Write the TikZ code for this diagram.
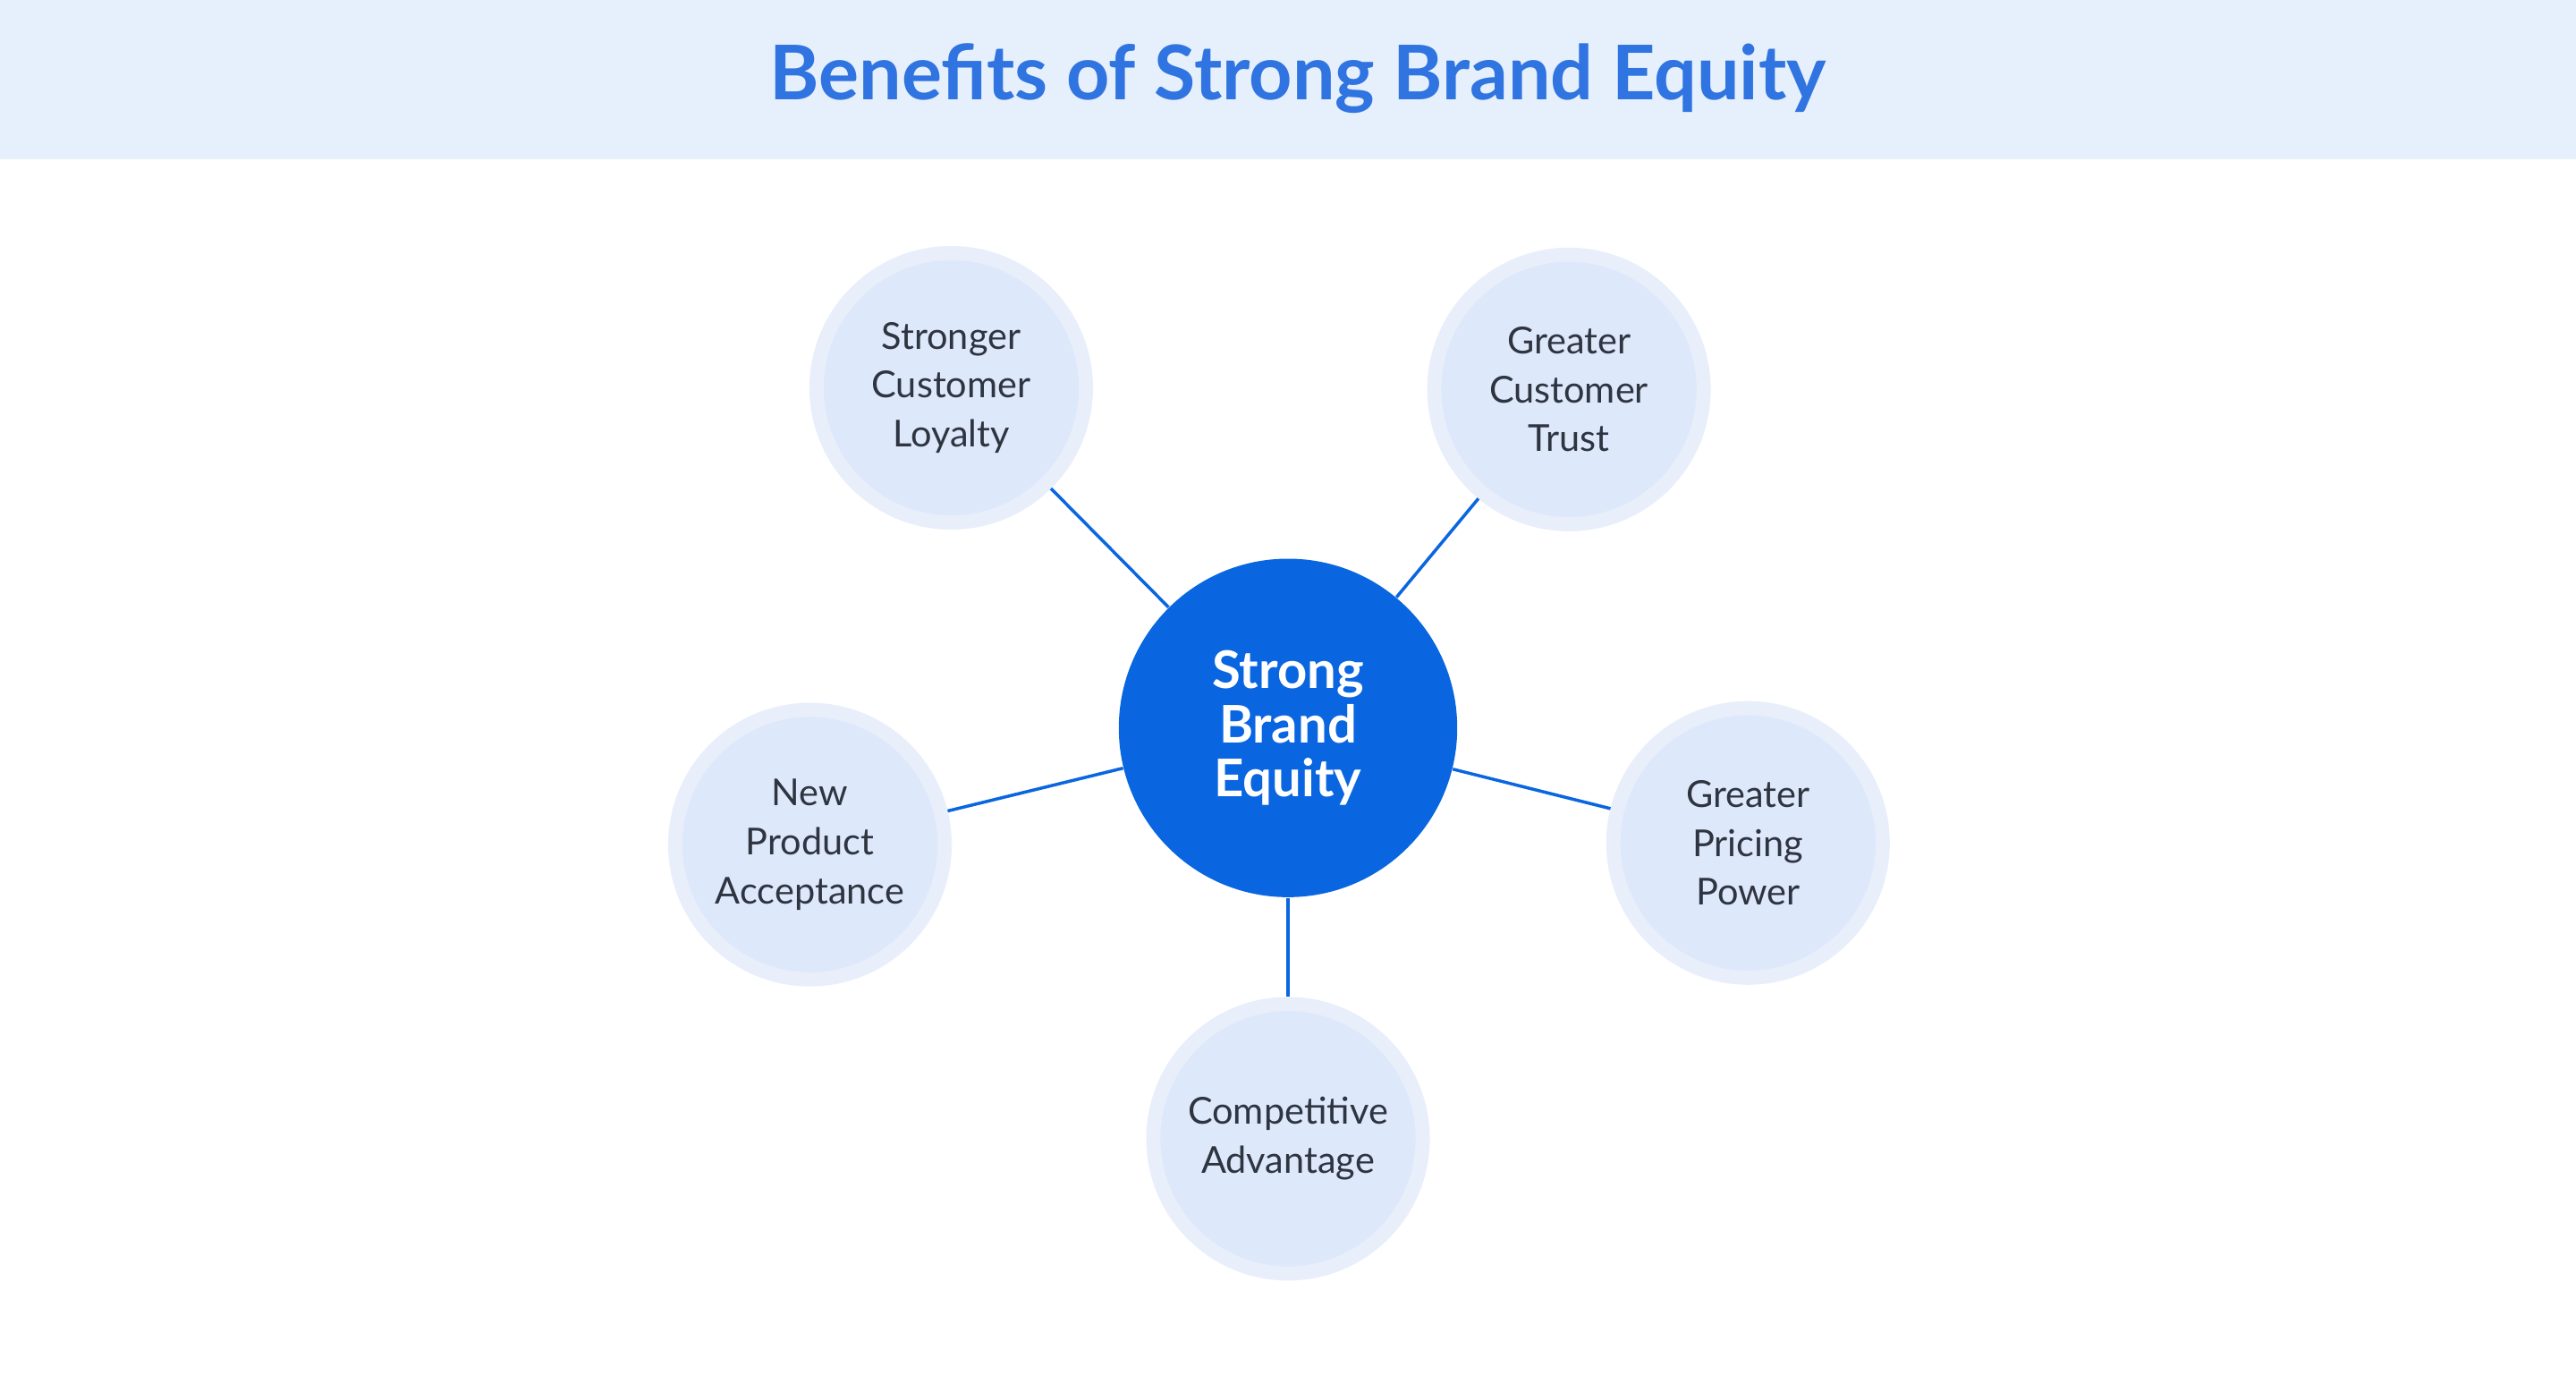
\documentclass[tikz,border=0pt]{standalone}
\usepackage{fontspec}
\setmainfont{Lato}
\definecolor{hdr}{HTML}{E6EFFC}
\definecolor{ttl}{HTML}{2F74E0}
\definecolor{cen}{HTML}{0A66E0}
\definecolor{ring}{HTML}{E8EFFB}
\definecolor{inner}{HTML}{DEE8FB}
\definecolor{txt}{HTML}{2E3440}
\begin{document}
\begin{tikzpicture}[x=0.018367cm,y=-0.018367cm,
  ben/.style={circle,minimum size=164*0.018367cm,fill=inner,draw=ring,line width=4.5pt,
    align=center,font=\fontsize{11.8}{15.6}\selectfont,text=txt,inner sep=0pt},
  link/.style={draw=cen,line width=1pt}]
\useasboundingbox (0,0) rectangle (1568,836.3);
\fill[white] (0,0) rectangle (1568,836.3);
\fill[hdr] (0,0) rectangle (1568,97);
\node[font=\bfseries\fontsize{24}{28}\selectfont,text=ttl] (title) at (790,48) {Benefits of Strong Brand Equity};
\node[circle,fill=cen,minimum size=206*0.018367cm,align=center,text=white,
  font=\bfseries\fontsize{16.5}{17.2}\selectfont,inner sep=0pt] (c) at (784,443) {Strong\\Brand\\Equity};
\node[ben] (a) at (579,236) {Stronger\\Customer\\Loyalty};
\node[ben] (b) at (955,237) {Greater\\Customer\\Trust};
\node[ben] (d) at (493,514) {New\\Product\\Acceptance};
\node[ben] (e) at (1064,513) {Greater\\Pricing\\Power};
\node[ben] (f) at (784,693) {Competitive\\Advantage};
\foreach \n in {a,b,d,e,f} \draw[link] (c) -- (\n);
\end{tikzpicture}
\end{document}
